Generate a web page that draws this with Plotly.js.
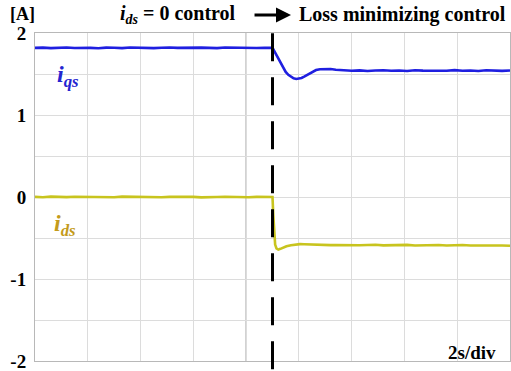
<!DOCTYPE html>
<html>
<head>
<meta charset="utf-8">
<script src="https://cdn.plot.ly/plotly-3.0.1.min.js"></script>
<style>html,body{margin:0;padding:0;background:#fff;}#chart{width:511px;height:371px;}</style>
</head>
<body>
<div id="chart"></div>
<script>
// time in seconds (2 s / div)
const iqsTime = [0,0.3,0.6,0.9,1.2,1.5,1.8,2.1,2.4,2.7,3.0,3.3,3.6,3.9,4.2,4.5,4.8,5.1,5.4,5.7,6.0,6.3,6.6,6.9,7.2,7.5,7.8,8.1,8.4,8.7,9.0,
  9.1,9.2,9.3,9.4,9.5,9.6,9.7,9.8,9.9,10.0,10.1,10.2,10.35,10.5,10.65,10.8,11.0,11.2,11.4,
  11.7,12.0,12.3,12.6,12.9,13.2,13.5,13.8,14.1,14.4,14.7,15.0,15.3,15.6,15.9,16.2,16.5,16.8,17.1,17.4,17.7,18.0];
const iqsValues = [1.818,1.822,1.815,1.820,1.824,1.817,1.821,1.819,1.814,1.822,1.820,1.816,1.823,1.819,1.821,1.815,1.820,1.824,1.818,1.821,1.817,1.822,1.819,1.816,1.823,1.820,1.818,1.822,1.817,1.821,1.819,
  1.76,1.70,1.64,1.58,1.525,1.49,1.465,1.448,1.44,1.443,1.452,1.468,1.495,1.525,1.548,1.558,1.562,1.560,1.552,
  1.546,1.540,1.544,1.537,1.542,1.546,1.539,1.543,1.536,1.545,1.541,1.538,1.544,1.540,1.547,1.539,1.543,1.537,1.545,1.541,1.538,1.543];

const idsTime = [0,0.3,0.6,0.9,1.2,1.5,1.8,2.1,2.4,2.7,3.0,3.3,3.6,3.9,4.2,4.5,4.8,5.1,5.4,5.7,6.0,6.3,6.6,6.9,7.2,7.5,7.8,8.1,8.4,8.7,9.0,
  9.03,9.06,9.1,9.15,9.22,9.3,9.4,9.53,9.7,9.85,10.04,10.2,10.4,10.6,10.8,11.0,11.2,11.4,
  11.7,12.0,12.3,12.6,12.9,13.2,13.5,13.8,14.1,14.4,14.7,15.0,15.3,15.6,15.9,16.2,16.5,16.8,17.1,17.4,17.7,18.0];
const idsValues = [0.002,-0.003,0.004,0.000,-0.002,0.003,0.001,-0.004,0.002,0.000,-0.003,0.004,0.001,-0.002,0.003,0.000,-0.003,0.002,0.004,-0.001,0.001,-0.004,0.002,0.000,0.003,-0.002,0.001,-0.003,0.002,0.000,0.001,
  -0.22,-0.45,-0.58,-0.628,-0.642,-0.632,-0.615,-0.600,-0.588,-0.580,-0.575,-0.577,-0.580,-0.583,-0.585,-0.584,-0.587,-0.585,
  -0.588,-0.584,-0.589,-0.586,-0.583,-0.590,-0.586,-0.588,-0.584,-0.591,-0.587,-0.589,-0.585,-0.592,-0.588,-0.586,-0.591,-0.589,-0.593,-0.588,-0.591,-0.594];

const yTickVals = [-2,-1,0,1,2];
const yTickText = ['-2','-1','0','1','2'];
const switchTime = 9;
const centerTime = 8;

const serif = 'Times New Roman, Liberation Serif, DejaVu Serif, serif';

const traces = [
  {x: iqsTime, y: iqsValues, type: 'scatter', mode: 'lines', line: {color: '#1f1fe0', width: 2.6}, hoverinfo: 'skip'},
  {x: idsTime, y: idsValues, type: 'scatter', mode: 'lines', line: {color: '#c8c41e', width: 2.6}, hoverinfo: 'skip'}
];

const layout = {
  width: 511, height: 371,
  margin: {l: 35, r: 1, t: 33, b: 10},
  paper_bgcolor: '#ffffff', plot_bgcolor: '#ffffff',
  font: {family: serif, color: '#000'},
  showlegend: false,
  xaxis: {
    range: [0, 18], dtick: 2, tick0: 0, showticklabels: false, ticks: '',
    showgrid: true, gridcolor: '#dcdcdc', gridwidth: 1,
    zeroline: false, showline: true, linecolor: '#b8b8b8', linewidth: 1, mirror: true
  },
  yaxis: {
    range: [-2, 2], tickvals: yTickVals, ticktext: yTickText, ticks: '',
    ticklabelstandoff: 4, ticklabeloverflow: 'allow',
    tickfont: {family: serif, size: 19, color: '#000', weight: 'bold'},
    showgrid: true, gridcolor: '#dcdcdc', gridwidth: 1,
    minor: {dtick: 0.5, tick0: 0, showgrid: true, gridcolor: '#dcdcdc', gridwidth: 1, ticks: ''},
    zeroline: false, showline: true, linecolor: '#b8b8b8', linewidth: 1, mirror: true
  },
  shapes: [
    {type: 'line', xref: 'x', yref: 'paper', x0: centerTime, x1: centerTime, y0: 0, y1: 1,
     line: {color: '#8c8c8c', width: 1}, layer: 'below'},
    {type: 'line', xref: 'x', yref: 'paper', x0: switchTime, x1: switchTime, y0: -0.025, y1: 1.03,
     line: {color: '#000', width: 3, dash: '28px,16px'}}
  ],
  annotations: [
    {xref: 'paper', yref: 'paper', x: -0.026, y: 1.058, xanchor: 'center', yanchor: 'middle', showarrow: false,
     text: '<b>[A]</b>', font: {family: serif, size: 18, color: '#000'}},
    {xref: 'paper', yref: 'paper', x: 0.301, y: 1.055, xanchor: 'center', yanchor: 'middle', showarrow: false,
     text: '<b><i>i</i><sub><i>ds</i></sub> = 0 control</b>', font: {family: serif, size: 20, color: '#000'}},
    {xref: 'paper', yref: 'paper', x: 0.5516, y: 1.055, xanchor: 'left', yanchor: 'middle', showarrow: false,
     text: '<b>Loss minimizing control</b>', font: {family: serif, size: 20, color: '#000'}},
    {xref: 'paper', yref: 'paper', x: 0.539, y: 1.055, ax: -38, ay: 0, axref: 'pixel', ayref: 'pixel',
     text: '', showarrow: true, arrowhead: 2, arrowsize: 1, arrowwidth: 3, arrowcolor: '#000'},
    {xref: 'paper', yref: 'paper', x: 0.0695, y: 0.869, xanchor: 'center', yanchor: 'middle', showarrow: false,
     text: '<b><i>i<sub>qs</sub></i></b>', font: {family: serif, size: 24, color: '#2424d0'}},
    {xref: 'paper', yref: 'paper', x: 0.063, y: 0.415, xanchor: 'center', yanchor: 'middle', showarrow: false,
     text: '<b><i>i<sub>ds</sub></i></b>', font: {family: serif, size: 24, color: '#c49b1c'}},
    {xref: 'paper', yref: 'paper', x: 0.92, y: 0.027, xanchor: 'center', yanchor: 'middle', showarrow: false,
     text: '<b>2s/div</b>', font: {family: serif, size: 19, color: '#000'}}
  ]
};

Plotly.newPlot('chart', traces, layout, {staticPlot: true, displayModeBar: false});
</script>
</body>
</html>
